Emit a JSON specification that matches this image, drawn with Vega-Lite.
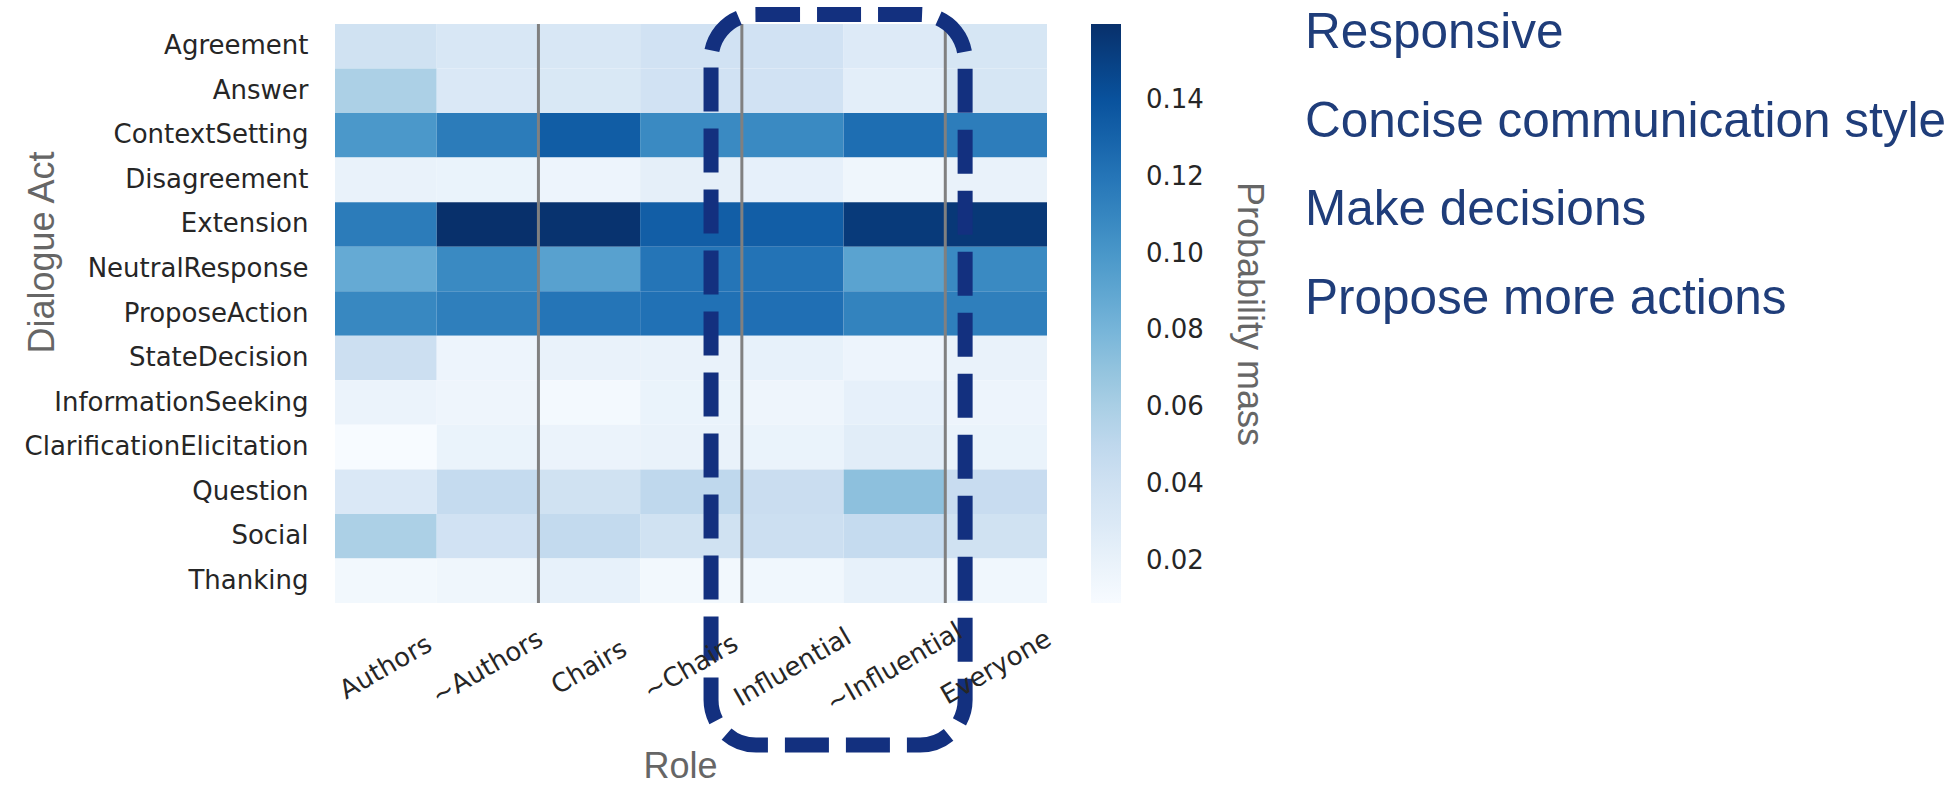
{
  "$schema": "https://vega.github.io/schema/vega-lite/v6.json",
  "padding": {"left": 24, "top": 7, "right": 0, "bottom": 0},
  "background": "white",
  "config": {"view": {"stroke": null}, "concat": {"spacing": 38}},
  "resolve": {"legend": {"color": "independent"}},
  "datasets": {
    "cells": [
      {"act": "Agreement", "role": "Authors", "mass": 0.039},
      {"act": "Agreement", "role": "~Authors", "mass": 0.033},
      {"act": "Agreement", "role": "Chairs", "mass": 0.033},
      {"act": "Agreement", "role": "~Chairs", "mass": 0.038},
      {"act": "Agreement", "role": "Influential", "mass": 0.038},
      {"act": "Agreement", "role": "~Influential", "mass": 0.029},
      {"act": "Agreement", "role": "Everyone", "mass": 0.034},
      {"act": "Answer", "role": "Authors", "mass": 0.059},
      {"act": "Answer", "role": "~Authors", "mass": 0.031},
      {"act": "Answer", "role": "Chairs", "mass": 0.032},
      {"act": "Answer", "role": "~Chairs", "mass": 0.038},
      {"act": "Answer", "role": "Influential", "mass": 0.038},
      {"act": "Answer", "role": "~Influential", "mass": 0.024},
      {"act": "Answer", "role": "Everyone", "mass": 0.034},
      {"act": "ContextSetting", "role": "Authors", "mass": 0.099},
      {"act": "ContextSetting", "role": "~Authors", "mass": 0.116},
      {"act": "ContextSetting", "role": "Chairs", "mass": 0.134},
      {"act": "ContextSetting", "role": "~Chairs", "mass": 0.108},
      {"act": "ContextSetting", "role": "Influential", "mass": 0.108},
      {"act": "ContextSetting", "role": "~Influential", "mass": 0.124},
      {"act": "ContextSetting", "role": "Everyone", "mass": 0.115},
      {"act": "Disagreement", "role": "Authors", "mass": 0.020},
      {"act": "Disagreement", "role": "~Authors", "mass": 0.019},
      {"act": "Disagreement", "role": "Chairs", "mass": 0.017},
      {"act": "Disagreement", "role": "~Chairs", "mass": 0.023},
      {"act": "Disagreement", "role": "Influential", "mass": 0.022},
      {"act": "Disagreement", "role": "~Influential", "mass": 0.015},
      {"act": "Disagreement", "role": "Everyone", "mass": 0.020},
      {"act": "Extension", "role": "Authors", "mass": 0.116},
      {"act": "Extension", "role": "~Authors", "mass": 0.1597},
      {"act": "Extension", "role": "Chairs", "mass": 0.158},
      {"act": "Extension", "role": "~Chairs", "mass": 0.133},
      {"act": "Extension", "role": "Influential", "mass": 0.133},
      {"act": "Extension", "role": "~Influential", "mass": 0.154},
      {"act": "Extension", "role": "Everyone", "mass": 0.155},
      {"act": "NeutralResponse", "role": "Authors", "mass": 0.087},
      {"act": "NeutralResponse", "role": "~Authors", "mass": 0.108},
      {"act": "NeutralResponse", "role": "Chairs", "mass": 0.093},
      {"act": "NeutralResponse", "role": "~Chairs", "mass": 0.120},
      {"act": "NeutralResponse", "role": "Influential", "mass": 0.121},
      {"act": "NeutralResponse", "role": "~Influential", "mass": 0.092},
      {"act": "NeutralResponse", "role": "Everyone", "mass": 0.108},
      {"act": "ProposeAction", "role": "Authors", "mass": 0.109},
      {"act": "ProposeAction", "role": "~Authors", "mass": 0.114},
      {"act": "ProposeAction", "role": "Chairs", "mass": 0.120},
      {"act": "ProposeAction", "role": "~Chairs", "mass": 0.122},
      {"act": "ProposeAction", "role": "Influential", "mass": 0.123},
      {"act": "ProposeAction", "role": "~Influential", "mass": 0.112},
      {"act": "ProposeAction", "role": "Everyone", "mass": 0.114},
      {"act": "StateDecision", "role": "Authors", "mass": 0.042},
      {"act": "StateDecision", "role": "~Authors", "mass": 0.017},
      {"act": "StateDecision", "role": "Chairs", "mass": 0.020},
      {"act": "StateDecision", "role": "~Chairs", "mass": 0.020},
      {"act": "StateDecision", "role": "Influential", "mass": 0.021},
      {"act": "StateDecision", "role": "~Influential", "mass": 0.017},
      {"act": "StateDecision", "role": "Everyone", "mass": 0.020},
      {"act": "InformationSeeking", "role": "Authors", "mass": 0.018},
      {"act": "InformationSeeking", "role": "~Authors", "mass": 0.016},
      {"act": "InformationSeeking", "role": "Chairs", "mass": 0.012},
      {"act": "InformationSeeking", "role": "~Chairs", "mass": 0.019},
      {"act": "InformationSeeking", "role": "Influential", "mass": 0.016},
      {"act": "InformationSeeking", "role": "~Influential", "mass": 0.022},
      {"act": "InformationSeeking", "role": "Everyone", "mass": 0.017},
      {"act": "ClarificationElicitation", "role": "Authors", "mass": 0.0091},
      {"act": "ClarificationElicitation", "role": "~Authors", "mass": 0.019},
      {"act": "ClarificationElicitation", "role": "Chairs", "mass": 0.018},
      {"act": "ClarificationElicitation", "role": "~Chairs", "mass": 0.020},
      {"act": "ClarificationElicitation", "role": "Influential", "mass": 0.019},
      {"act": "ClarificationElicitation", "role": "~Influential", "mass": 0.026},
      {"act": "ClarificationElicitation", "role": "Everyone", "mass": 0.019},
      {"act": "Question", "role": "Authors", "mass": 0.031},
      {"act": "Question", "role": "~Authors", "mass": 0.047},
      {"act": "Question", "role": "Chairs", "mass": 0.039},
      {"act": "Question", "role": "~Chairs", "mass": 0.050},
      {"act": "Question", "role": "Influential", "mass": 0.044},
      {"act": "Question", "role": "~Influential", "mass": 0.072},
      {"act": "Question", "role": "Everyone", "mass": 0.045},
      {"act": "Social", "role": "Authors", "mass": 0.059},
      {"act": "Social", "role": "~Authors", "mass": 0.038},
      {"act": "Social", "role": "Chairs", "mass": 0.048},
      {"act": "Social", "role": "~Chairs", "mass": 0.039},
      {"act": "Social", "role": "Influential", "mass": 0.042},
      {"act": "Social", "role": "~Influential", "mass": 0.047},
      {"act": "Social", "role": "Everyone", "mass": 0.039},
      {"act": "Thanking", "role": "Authors", "mass": 0.013},
      {"act": "Thanking", "role": "~Authors", "mass": 0.015},
      {"act": "Thanking", "role": "Chairs", "mass": 0.021},
      {"act": "Thanking", "role": "~Chairs", "mass": 0.013},
      {"act": "Thanking", "role": "Influential", "mass": 0.014},
      {"act": "Thanking", "role": "~Influential", "mass": 0.021},
      {"act": "Thanking", "role": "Everyone", "mass": 0.014}
    ],
    "separators": [{"role": "Chairs"}, {"role": "Influential"}, {"role": "Everyone"}],
    "notes": [
      {"text": "Responsive"},
      {"text": "Concise communication style"},
      {"text": "Make decisions"},
      {"text": "Propose more actions"}
    ]
  },
  "hconcat": [
    {
      "width": 712,
      "height": 579,
      "layer": [
        {
          "layer": [
            {
              "data": {"name": "cells"},
              "mark": {"type": "rect"},
              "encoding": {
                "x": {
                  "field": "role", "type": "nominal",
                  "scale": {"domain": ["Authors", "~Authors", "Chairs", "~Chairs", "Influential", "~Influential", "Everyone"]},
                  "title": "Role",
                  "axis": {
                    "labelAngle": -30, "labelAlign": "center", "labelBaseline": "middle",
                    "labelPadding": 64, "ticks": false, "domain": false, "labelLimit": 0,
                    "labelFont": "DejaVu Sans", "labelFontSize": 26, "labelColor": "#262626",
                    "titleFont": "Liberation Sans", "titleFontSize": 36, "titleFontWeight": "normal",
                    "titleColor": "#666666", "titlePadding": 33, "titleX": 345
                  }
                },
                "y": {
                  "field": "act", "type": "nominal",
                  "scale": {"domain": ["Agreement", "Answer", "ContextSetting", "Disagreement", "Extension", "NeutralResponse", "ProposeAction", "StateDecision", "InformationSeeking", "ClarificationElicitation", "Question", "Social", "Thanking"]},
                  "title": "Dialogue Act",
                  "axis": {
                    "labelPadding": 27, "ticks": false, "domain": false, "labelLimit": 0,
                    "labelFont": "DejaVu Sans", "labelFontSize": 26, "labelColor": "#262626",
                    "titleFont": "Liberation Sans", "titleFontSize": 36, "titleFontWeight": "normal",
                    "titleColor": "#666666", "titlePadding": 74, "titleY": 228
                  }
                },
                "color": {
                  "field": "mass", "type": "quantitative",
                  "scale": {
                    "domain": [0.0091, 0.02793, 0.04675, 0.06558, 0.0844, 0.10323, 0.12205, 0.14088, 0.1597],
                    "range": ["#f7fbff", "#deebf7", "#c6dbef", "#9ecae1", "#6baed6", "#4292c6", "#2171b5", "#08519c", "#08306b"],
                    "interpolate": "rgb"
                  },
                  "legend": {
                    "title": "Probability mass", "titleOrient": "right", "titleAnchor": "middle",
                    "titleFont": "Liberation Sans", "titleFontSize": 36, "titleFontWeight": "normal",
                    "titleColor": "#666666", "titlePadding": 26, "titleLimit": 0,
                    "direction": "vertical", "gradientLength": 579, "gradientThickness": 30,
                    "gradientStrokeWidth": 0,
                    "labelFont": "DejaVu Sans", "labelFontSize": 26, "labelColor": "#262626",
                    "labelOffset": 25, "labelOverlap": false,
                    "values": [0.02, 0.04, 0.06, 0.08, 0.10, 0.12, 0.14], "format": ".2f",
                    "offset": 44, "padding": 0
                  }
                }
              }
            },
            {
              "data": {"name": "separators"},
              "mark": {"type": "rule", "color": "#808080", "strokeWidth": 3},
              "encoding": {
                "x": {"field": "role", "type": "nominal", "bandPosition": 0}
              }
            }
          ]
        },
        {
          "data": {"values": [{}]},
          "mark": {"type": "rect", "filled": false, "stroke": "#13307f", "strokeWidth": 15, "strokeDash": [44, 17], "cornerRadius": 45, "clip": false},
          "encoding": {
            "x": {"datum": 3.697, "type": "quantitative", "scale": {"domain": [0, 7], "nice": false}, "axis": null},
            "x2": {"datum": 6.195},
            "y": {"datum": -0.213, "type": "quantitative", "scale": {"domain": [0, 13], "nice": false, "reverse": true}, "axis": null},
            "y2": {"datum": 16.19}
          }
        }
      ],
      "resolve": {"scale": {"x": "independent", "y": "independent"}}
    },
    {
      "data": {"name": "notes"},
      "width": 640,
      "height": 314,
      "mark": {"type": "text", "align": "left", "baseline": "alphabetic", "font": "Liberation Sans", "fontSize": 49.5, "color": "#1f3d7a"},
      "encoding": {
        "y": {"field": "text", "type": "nominal", "sort": null, "scale": {"type": "point", "padding": 0.27}, "axis": null},
        "x": {"datum": 0, "type": "quantitative", "scale": {"domain": [0, 1]}, "axis": null},
        "text": {"field": "text"}
      }
    }
  ]
}
